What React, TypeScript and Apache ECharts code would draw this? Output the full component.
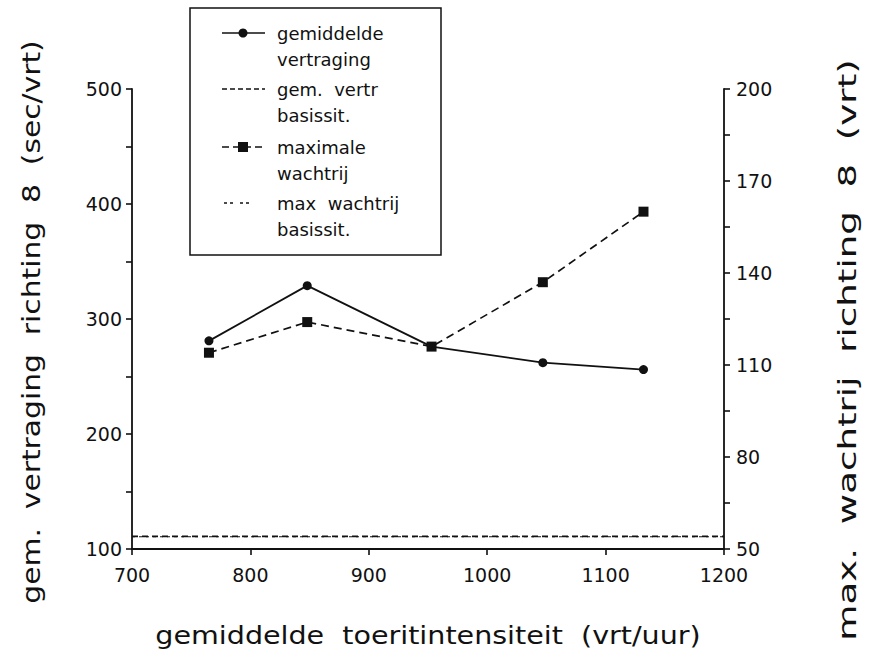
import React, { useEffect, useRef } from "react";
import * as echarts from "echarts";

// ---- data ----
const intensity = [765, 848, 953, 1047, 1132]; // gemiddelde toeritintensiteit (vrt/uur)
const avgDelay = [281, 329, 276, 262, 256]; // gemiddelde vertraging (sec/vrt), left axis
const maxQueue = [114, 124, 116, 137, 160]; // maximale wachtrij (vrt), right axis
const baselineX = [700, 1200];
const baseDelay = [111, 111]; // gem. vertr basissit. (left axis)
const baseQueue = [54, 54]; // max wachtrij basissit. (right axis)

const xTickLabels = [700, 800, 900, 1000, 1100, 1200];
const leftTickLabels = [100, 200, 300, 400, 500];
const leftTicks = [100, 150, 200, 250, 300, 350, 400, 450, 500];
const rightTickLabels = [50, 80, 110, 140, 170, 200];
const rightTicks = [50, 65, 80, 95, 110, 125, 140, 155, 170, 185, 200];

const seriesNames = [
  "gemiddelde vertraging",
  "gem. vertr basissit.",
  "maximale wachtrij",
  "max wachtrij basissit.",
];
const legendLines = [
  ["gemiddelde", "vertraging"],
  ["gem.  vertr", "basissit."],
  ["maximale", "wachtrij"],
  ["max  wachtrij", "basissit."],
];
const xTitle = "gemiddelde  toeritintensiteit  (vrt/uur)";
const leftTitle = "gem.  vertraging  richting  8  (sec/vrt)";
const rightTitle = "max.  wachtrij  richting  8  (vrt)";

const FONT = "'DejaVu Sans', 'Liberation Sans', sans-serif";
const INK = "#111";

function legendGraphic() {
  const els: any[] = [];
  els.push({
    type: "rect",
    shape: { x: 190, y: 8, width: 251, height: 247 },
    style: { fill: "#fff", stroke: INK, lineWidth: 1.5 },
  });
  const rowY = [33, 89, 147, 203];
  rowY.forEach((y, i) => {
    if (i === 3) {
      els.push({
        type: "line",
        shape: { x1: 224, y1: y, x2: 234, y2: y },
        style: { stroke: INK, lineWidth: 1.3, lineDash: [3, 3] },
      });
      els.push({
        type: "line",
        shape: { x1: 240, y1: y, x2: 250, y2: y },
        style: { stroke: INK, lineWidth: 1.3, lineDash: [3, 3] },
      });
    } else {
      els.push({
        type: "line",
        shape: { x1: 222, y1: y, x2: 265, y2: y },
        style: {
          stroke: INK,
          lineWidth: 1.7,
          lineDash: i === 0 ? null : i === 1 ? [5, 3] : [7, 4],
        },
      });
    }
    if (i === 0) {
      els.push({ type: "circle", shape: { cx: 243, cy: y, r: 4.5 }, style: { fill: INK } });
    }
    if (i === 2) {
      els.push({ type: "rect", shape: { x: 238, y: y - 5, width: 10, height: 10 }, style: { fill: INK } });
    }
    legendLines[i].forEach((t, j) => {
      els.push({
        type: "text",
        x: 277,
        y: y + j * 26,
        style: {
          text: t,
          x: 0,
          y: 0,
          fill: INK,
          fontSize: 18,
          fontFamily: FONT,
          verticalAlign: "middle",
          align: "left",
        },
      });
    });
  });
  return els;
}

function titleGraphic() {
  const mk = (text: string, x: number, y: number, rot: number, sx: number) => ({
    type: "text",
    x,
    y,
    rotation: rot,
    scaleX: sx,
    style: {
      text,
      x: 0,
      y: 0,
      fill: INK,
      fontSize: 24,
      fontFamily: FONT,
      align: "center",
      verticalAlign: "middle",
    },
  });
  return [
    mk(xTitle, 428, 636, 0, 1.19),
    mk(leftTitle, 32, 322, Math.PI / 2, 1.24),
    mk(rightTitle, 848, 350, Math.PI / 2, 1.55),
  ];
}

export default function App() {
  const ref = useRef<HTMLDivElement>(null);
  useEffect(() => {
    if (!ref.current) return;
    const chart = echarts.init(ref.current, undefined, { renderer: "svg" });
    const axisCommon = {
      axisLine: { show: true, lineStyle: { color: INK, width: 1.8 } },
      splitLine: { show: false },
    };
    const fmt = (v: number) => String(v);
    const tickStyle = { color: INK, width: 1.6 };
    chart.setOption({
      animation: false,
      backgroundColor: "#fff",
      textStyle: { fontFamily: FONT, color: INK },
      grid: { left: 132, right: 147, top: 89, bottom: 108, containLabel: false },
      xAxis: {
        type: "value",
        min: 700,
        max: 1200,
        interval: 100,
        ...axisCommon,
        axisTick: { show: true, inside: false, length: 6, lineStyle: tickStyle, customValues: xTickLabels },
        axisLabel: { fontSize: 19, color: INK, margin: 16, fontFamily: FONT, customValues: xTickLabels, formatter: fmt },
      },
      yAxis: [
        {
          type: "value",
          position: "left",
          min: 100,
          max: 500,
          interval: 100,
          ...axisCommon,
          axisTick: { show: true, inside: false, length: 6, lineStyle: tickStyle, customValues: leftTicks },
          axisLabel: { fontSize: 19, color: INK, margin: 10, fontFamily: FONT, customValues: leftTickLabels, formatter: fmt },
        },
        {
          type: "value",
          position: "right",
          min: 50,
          max: 200,
          ...axisCommon,
          axisTick: { show: true, inside: false, length: 6, lineStyle: tickStyle, customValues: rightTicks },
          axisLabel: { fontSize: 19, color: INK, margin: 12, fontFamily: FONT, customValues: rightTickLabels, formatter: fmt },
        },
      ],
      series: [
        {
          name: seriesNames[0],
          type: "line",
          yAxisIndex: 0,
          data: intensity.map((x, i) => [x, avgDelay[i]]),
          symbol: "circle",
          symbolSize: 9,
          lineStyle: { color: INK, width: 1.8 },
          itemStyle: { color: INK },
        },
        {
          name: seriesNames[1],
          type: "line",
          yAxisIndex: 0,
          data: baselineX.map((x, i) => [x, baseDelay[i]]),
          symbol: "none",
          lineStyle: { color: INK, width: 1.8, type: [6, 4] },
        },
        {
          name: seriesNames[2],
          type: "line",
          yAxisIndex: 1,
          data: intensity.map((x, i) => [x, maxQueue[i]]),
          symbol: "rect",
          symbolSize: 10,
          lineStyle: { color: INK, width: 1.7, type: [8, 5] },
          itemStyle: { color: INK },
        },
        {
          name: seriesNames[3],
          type: "line",
          yAxisIndex: 1,
          data: baselineX.map((x, i) => [x, baseQueue[i]]),
          symbol: "none",
          lineStyle: { color: INK, width: 1.2, type: [3, 4] },
        },
      ],
      graphic: [...legendGraphic(), ...titleGraphic()],
    });
    return () => chart.dispose();
  }, []);
  return <div ref={ref} style={{ width: 871, height: 657, position: "absolute", left: 0, top: 0 }} />;
}
